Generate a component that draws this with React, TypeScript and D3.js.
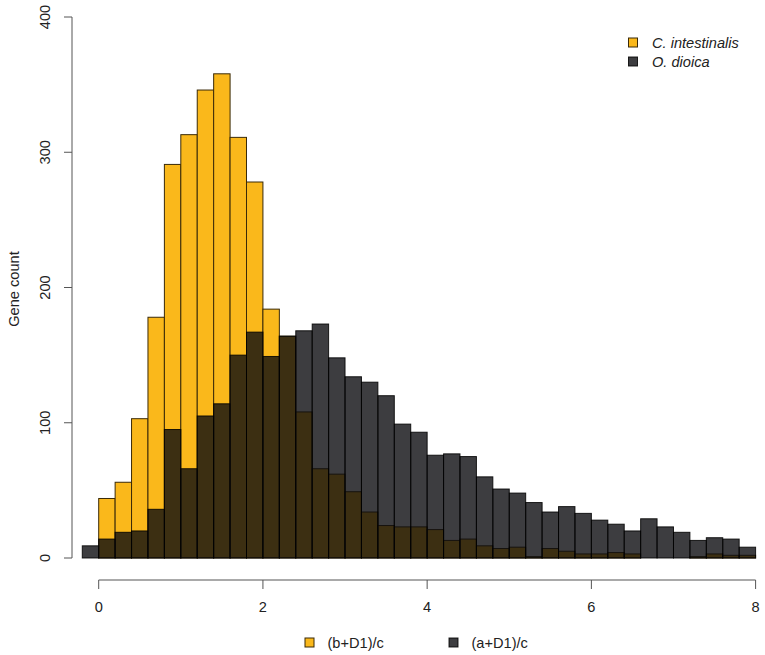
import React from "react";
import * as d3 from "d3";

const binStarts = [-0.2, 0, 0.2, 0.4, 0.6, 0.8, 1.0, 1.2, 1.4, 1.6, 1.8, 2.0, 2.2, 2.4, 2.6, 2.8, 3.0, 3.2, 3.4, 3.6, 3.8, 4.0, 4.2, 4.4, 4.6, 4.8, 5.0, 5.2, 5.4, 5.6, 5.8, 6.0, 6.2, 6.4, 6.6, 6.8, 7.0, 7.2, 7.4, 7.6, 7.8];
const binWidth = 0.2;

const cionaCounts = [0, 44, 56, 103, 178, 291, 313, 346, 358, 311, 278, 184, 164, 108, 66, 62, 49, 34, 24, 23, 23, 21, 13, 14, 9, 7, 8, 1, 7, 5, 3, 3, 4, 3, 0, 0, 0, 1, 3, 2, 2];
const oikoCounts = [9, 14, 19, 20, 36, 95, 66, 105, 114, 150, 167, 149, 164, 168, 173, 148, 134, 130, 120, 99, 93, 76, 77, 75, 60, 51, 48, 41, 34, 38, 33, 28, 25, 20, 29, 23, 19, 13, 15, 14, 8];

const xTicks = [0, 2, 4, 6, 8];
const yTicks = [0, 100, 200, 300, 400];

const speciesLabels = ["C. intestinalis", "O. dioica"];
const formulaLabels = ["(b+D1)/c", "(a+D1)/c"];

const YELLOW = "#FAB81B";
const DARK = "rgba(12,12,16,0.8)";
const YSTROKE = "#3a2a08";
const DSTROKE = "rgba(0,0,0,0.85)";
const AXIS = "#555";
const TEXT = "#222";
const FONT = "'Liberation Sans', Arial, Helvetica, sans-serif";
const FS = 14.6;

export default function App() {
  const x = d3.scaleLinear().domain([0, 8]).range([98.7, 755.6]);
  const y = d3.scaleLinear().domain([0, 400]).range([558, 17]);

  const bars = (counts: number[], fill: string, stroke: string) =>
    counts.map((c, i) => {
      const x0 = x(binStarts[i]);
      const x1 = x(binStarts[i] + binWidth);
      if (c <= 0) return null;
      return (
        <rect
          key={i}
          x={x0}
          y={y(c)}
          width={x1 - x0}
          height={y(0) - y(c)}
          fill={fill}
          stroke={stroke}
          strokeWidth={1}
        />
      );
    });

  const axisY = 580;
  const yAxisX = 72;

  return (
    <svg
      width={765}
      height={655}
      style={{ position: "absolute", left: 0, top: 0, background: "#fff" }}
      fontFamily={FONT}
    >
      <rect x={0} y={0} width={765} height={655} fill="#fff" />
      {bars(cionaCounts, YELLOW, YSTROKE)}
      {bars(oikoCounts, DARK, DSTROKE)}

      {/* Y axis */}
      <line x1={yAxisX} x2={yAxisX} y1={y(0)} y2={y(400)} stroke={AXIS} strokeWidth={1} />
      {yTicks.map((t) => (
        <g key={t}>
          <line x1={yAxisX - 8} x2={yAxisX} y1={y(t)} y2={y(t)} stroke={AXIS} strokeWidth={1} />
          <text
            transform={`translate(${45},${y(t)}) rotate(-90)`}
            textAnchor="middle"
            dominantBaseline="central"
            fontSize={FS}
            fill={TEXT}
          >
            {t}
          </text>
        </g>
      ))}
      <text
        transform={`translate(${13.5},${289}) rotate(-90)`}
        textAnchor="middle"
        dominantBaseline="central"
        fontSize={FS}
        fill={TEXT}
      >
        Gene count
      </text>

      {/* X axis */}
      <line x1={x(0)} x2={x(8)} y1={axisY} y2={axisY} stroke={AXIS} strokeWidth={1} />
      {xTicks.map((t) => (
        <g key={t}>
          <line x1={x(t)} x2={x(t)} y1={axisY} y2={axisY + 9} stroke={AXIS} strokeWidth={1} />
          <text x={x(t)} y={607} textAnchor="middle" dominantBaseline="central" fontSize={FS} fill={TEXT}>
            {t}
          </text>
        </g>
      ))}

      {/* Top-right legend */}
      {speciesLabels.map((s, i) => (
        <g key={s}>
          <rect
            x={628.5}
            y={38 + i * 19}
            width={9}
            height={9}
            fill={i === 0 ? YELLOW : DARK}
            stroke={i === 0 ? YSTROKE : DSTROKE}
            strokeWidth={1}
          />
          <text x={652} y={42.5 + i * 19} dominantBaseline="central" fontSize={FS} fontStyle="italic" fill={TEXT}>
            {s}
          </text>
        </g>
      ))}

      {/* Bottom legend */}
      {formulaLabels.map((s, i) => (
        <g key={s}>
          <rect
            x={i === 0 ? 305 : 449}
            y={638}
            width={9}
            height={9}
            fill={i === 0 ? YELLOW : DARK}
            stroke={i === 0 ? YSTROKE : DSTROKE}
            strokeWidth={1}
          />
          <text x={i === 0 ? 327.5 : 471.5} y={642.5} dominantBaseline="central" fontSize={FS} fill={TEXT}>
            {s}
          </text>
        </g>
      ))}
    </svg>
  );
}
